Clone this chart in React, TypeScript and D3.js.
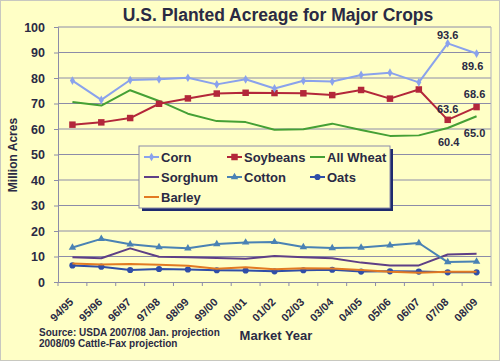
import React, { useEffect, useRef } from 'react';
import * as d3 from 'd3';

const years = ['94/95', '95/96', '96/97', '97/98', '98/99', '99/00', '00/01', '01/02', '02/03', '03/04', '04/05', '05/06', '06/07', '07/08', '08/09'];
const corn = [79.0, 71.4, 79.2, 79.5, 80.1, 77.5, 79.5, 75.9, 78.9, 78.6, 81.2, 82.1, 78.3, 93.6, 89.6];
const soybeans = [61.7, 62.6, 64.3, 69.9, 72.0, 73.9, 74.2, 74.1, 74.0, 73.3, 75.3, 71.9, 75.5, 63.6, 68.6];
const wheat = [70.6, 69.2, 75.2, 71.0, 66.0, 63.1, 62.7, 59.7, 59.9, 62.1, 59.6, 57.3, 57.5, 60.4, 65.0];
const sorghum = [9.7, 9.3, 13.2, 9.9, 9.7, 9.4, 9.1, 10.2, 9.7, 9.3, 7.6, 6.5, 6.5, 10.8, 11.1];
const cotton = [13.5, 16.9, 14.8, 13.7, 13.2, 14.9, 15.5, 15.7, 13.7, 13.3, 13.5, 14.4, 15.3, 7.8, 8.0];
const oats = [6.5, 6.0, 4.7, 5.1, 4.9, 4.6, 4.5, 4.2, 4.6, 4.8, 4.1, 4.2, 4.1, 3.8, 3.8];
const barley = [7.3, 6.9, 7.1, 6.8, 6.4, 5.2, 5.8, 5.0, 5.4, 5.3, 4.7, 4.0, 3.6, 4.0, 4.0];
const yTicks = [0, 10, 20, 30, 40, 50, 60, 70, 80, 90, 100];

type Marker = 'diamond' | 'square' | 'triangle' | 'circle' | 'none';
const series: { name: string; values: number[]; color: string; marker: Marker }[] = [
  { name: 'Corn', values: corn, color: '#8aa2ec', marker: 'diamond' },
  { name: 'Soybeans', values: soybeans, color: '#b3273a', marker: 'square' },
  { name: 'All Wheat', values: wheat, color: '#45a035', marker: 'none' },
  { name: 'Sorghum', values: sorghum, color: '#5e3f86', marker: 'none' },
  { name: 'Cotton', values: cotton, color: '#4a82b4', marker: 'triangle' },
  { name: 'Oats', values: oats, color: '#2f4ea8', marker: 'circle' },
  { name: 'Barley', values: barley, color: '#e27a22', marker: 'none' },
];
const drawOrder = ['Sorghum', 'Cotton', 'Oats', 'Barley', 'All Wheat', 'Soybeans', 'Corn'];

const symbolFor = (m: Marker) => {
  if (m === 'diamond') return d3.symbol(d3.symbolDiamond, 22);
  if (m === 'square') return d3.symbol(d3.symbolSquare, 42);
  if (m === 'triangle') return d3.symbol(d3.symbolTriangle, 24);
  return d3.symbol(d3.symbolCircle, 30);
};

export default function App() {
  const ref = useRef<SVGSVGElement>(null);
  const width = 500;
  const height = 361;

  useEffect(() => {
    if (!ref.current) return;
    const svg = d3.select(ref.current);
    svg.selectAll('*').remove();
    const font = 'Liberation Sans, Arial, sans-serif';
    const ink = '#2a2a44';

    svg.append('rect').attr('width', width).attr('height', height).attr('fill', '#ffffc6');
    svg.append('rect').attr('x', 0.5).attr('y', 0.5).attr('width', width - 1).attr('height', height - 1)
      .attr('fill', 'none').attr('stroke', '#c8c8c0');

    const left = 58, right = 491, top = 27, bottom = 282;
    const x = d3.scaleBand().domain(years).range([left, right]);
    const y = d3.scaleLinear().domain([0, 100]).range([bottom, top]);
    const cx = (i: number) => (x(years[i]) as number) + x.bandwidth() / 2;

    svg.append('text').attr('x', 278).attr('y', 21).attr('text-anchor', 'middle')
      .attr('font-family', font).attr('font-weight', 'bold').attr('font-size', 17.5).attr('fill', ink)
      .text('U.S. Planted Acreage for Major Crops');

    // gridlines
    svg.append('g').selectAll('line').data(yTicks.filter(t => t > 0)).join('line')
      .attr('x1', left).attr('x2', right).attr('y1', d => y(d)).attr('y2', d => y(d))
      .attr('stroke', '#8c8ca8').attr('stroke-width', 1);
    svg.append('line').attr('x1', right).attr('x2', right).attr('y1', top).attr('y2', bottom)
      .attr('stroke', '#b0b0c0');

    // y axis
    const ya = svg.append('g').attr('transform', `translate(${left},0)`)
      .call(d3.axisLeft(y).tickValues(yTicks).tickSize(4).tickPadding(9));
    ya.select('.domain').attr('stroke', '#8c8ca8');
    ya.selectAll('line').attr('stroke', '#8c8ca8');
    ya.selectAll('text').attr('font-family', font).attr('font-weight', 'bold').attr('font-size', 12.5).attr('fill', ink);

    // x axis
    const xa = svg.append('g').attr('transform', `translate(0,${bottom})`)
      .call(d3.axisBottom(x).tickSize(0).tickFormat(() => ''));
    xa.select('.domain').attr('stroke', '#8c8ca8');
    svg.append('g').selectAll('line').data(d3.range(years.length + 1)).join('line')
      .attr('x1', i => left + i * x.bandwidth()).attr('x2', i => left + i * x.bandwidth())
      .attr('y1', bottom).attr('y2', bottom + 4).attr('stroke', '#8c8ca8');
    svg.append('g').selectAll('text').data(years).join('text')
      .attr('transform', (d, i) => `translate(${cx(i) - 1},${bottom + 18}) rotate(-45)`)
      .attr('text-anchor', 'end').attr('dy', '0.35em')
      .attr('font-family', font).attr('font-weight', 'bold').attr('font-size', 11).attr('fill', ink)
      .text(d => d);

    svg.append('text').attr('transform', 'translate(17,155) rotate(-90)').attr('text-anchor', 'middle')
      .attr('font-family', font).attr('font-weight', 'bold').attr('font-size', 12).attr('fill', ink)
      .text('Million Acres');
    svg.append('text').attr('x', 276).attr('y', 340).attr('text-anchor', 'middle')
      .attr('font-family', font).attr('font-weight', 'bold').attr('font-size', 13).attr('fill', ink)
      .text('Market Year');
    svg.append('text').attr('x', 39).attr('y', 336)
      .attr('font-family', font).attr('font-weight', 'bold').attr('font-size', 10).attr('fill', ink)
      .text('Source:  USDA 2007/08 Jan. projection');
    svg.append('text').attr('x', 39).attr('y', 347)
      .attr('font-family', font).attr('font-weight', 'bold').attr('font-size', 10).attr('fill', ink)
      .text('2008/09 Cattle-Fax projection');

    // legend (drawn under the lines)
    const lg = svg.append('g').attr('transform', 'translate(139,146)');
    lg.append('rect').attr('x', 3).attr('y', 3).attr('width', 251).attr('height', 62).attr('fill', '#1e2a6e');
    lg.append('rect').attr('width', 251).attr('height', 62).attr('fill', '#ffffc6').attr('stroke', '#8c8ca8');
    series.forEach((s, i) => {
      const gx = 5 + (i % 3) * 83;
      const gy = 11 + Math.floor(i / 3) * 20;
      const e = lg.append('g').attr('transform', `translate(${gx},${gy})`);
      e.append('line').attr('x1', 0).attr('x2', 15).attr('stroke', s.color).attr('stroke-width', 2);
      if (s.marker !== 'none') {
        e.append('path').attr('d', symbolFor(s.marker)()).attr('transform', 'translate(7.5,0)').attr('fill', s.color);
      }
      e.append('text').attr('x', 17).attr('dy', '0.36em')
        .attr('font-family', font).attr('font-weight', 'bold').attr('font-size', 13).attr('fill', ink)
        .text(s.name);
    });

    // lines
    const line = d3.line<number>().x((d, i) => cx(i)).y(d => y(d));
    drawOrder.forEach(name => {
      const s = series.find(v => v.name === name)!;
      svg.append('path').datum(s.values).attr('d', line).attr('fill', 'none')
        .attr('stroke', s.color).attr('stroke-width', 2).attr('stroke-linejoin', 'round');
      if (s.marker !== 'none') {
        svg.append('g').selectAll('path').data(s.values).join('path')
          .attr('d', symbolFor(s.marker)())
          .attr('transform', (d, i) => `translate(${cx(i)},${y(d)})`)
          .attr('fill', s.color);
      }
    });

    // data labels
    const labels: { v: number; i: number; dx: number; dy: number }[] = [
      { v: corn[13], i: 13, dx: 0, dy: -8 },
      { v: corn[14], i: 14, dx: -4, dy: 13 },
      { v: soybeans[13], i: 13, dx: 0, dy: -11 },
      { v: soybeans[14], i: 14, dx: -2, dy: -13 },
      { v: wheat[13], i: 13, dx: 1, dy: 14 },
      { v: wheat[14], i: 14, dx: -2, dy: 17 },
    ];
    svg.append('g').selectAll('text').data(labels).join('text')
      .attr('x', d => cx(d.i) + d.dx).attr('y', d => y(d.v) + d.dy).attr('dy', '0.35em')
      .attr('text-anchor', 'middle')
      .attr('font-family', font).attr('font-weight', 'bold').attr('font-size', 11).attr('fill', ink)
      .text(d => d.v.toFixed(1));
  }, []);

  return (
    <svg ref={ref} width={width} height={height}
      style={{ position: 'absolute', left: 0, top: 0, display: 'block' }} />
  );
}
